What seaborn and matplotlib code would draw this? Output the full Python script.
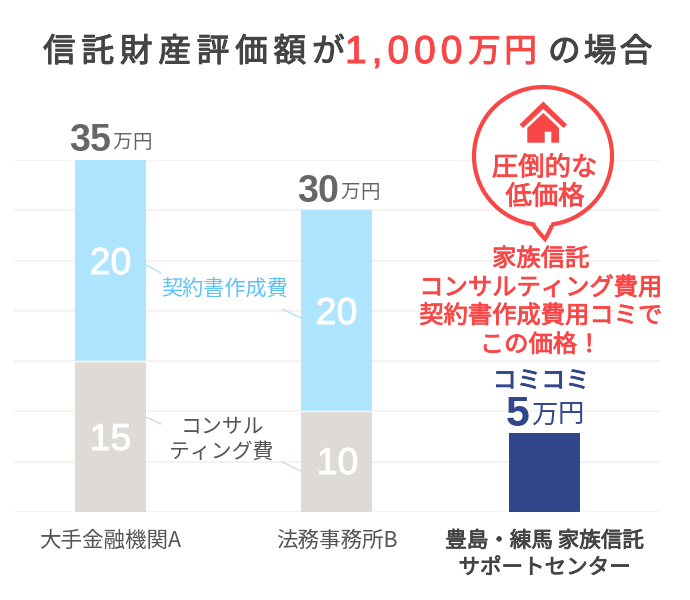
import matplotlib
matplotlib.use("Agg")
import matplotlib.pyplot as plt
import matplotlib.patheffects as pe
from matplotlib.patches import PathPatch, Polygon
from matplotlib.path import Path
import numpy as np
import pandas as pd
import seaborn as sns

# chart values (万円)
companies = ["大手金融機関A", "法務事務所B", "豊島・練馬 家族信託\nサポートセンター"]
consulting_fee = [15, 10, 0]
contract_fee = [20, 20, 0]
total_fee = [35, 30, 5]
# the third bar is drawn taller than its label says in the original
bar_height = [35, 30, 7.9]

# bars are not evenly spaced in the original, x units are pixels
bar_x = [110.5, 336.5, 544.5]

RED = "#f94646"
BLUE = "#afe4ff"
GREY = "#dedad5"
NAVY = "#31478b"
GRID = "#f6f2ef"
FONT = ["Noto Sans CJK JP", "DejaVu Sans"]
LATIN = ["Liberation Sans", "Noto Sans CJK JP"]

sns.set_theme(style="white")
plt.rcParams["font.family"] = FONT

W, H = 690, 600
fig = plt.figure(figsize=(W / 100, H / 100), dpi=100, facecolor="white")
ax = fig.add_axes([14 / W, 1 - 512 / H, 646 / W, 352 / H])

df = pd.DataFrame({"x": bar_x, "total": bar_height, "base": consulting_fee})
bar_colors = [BLUE, BLUE, NAVY]
sns.barplot(data=df, x="x", y="total", hue="x", palette=bar_colors, dodge=False, native_scale=True,
            width=71 / 208, linewidth=0, saturation=1, legend=False, ax=ax, zorder=3)
sns.barplot(data=df, x="x", y="base", color=GREY, native_scale=True, saturation=1,
            width=71 / 208, linewidth=0, ax=ax, zorder=4)
ax.hlines(df["base"][:2], [b - 35.5 for b in bar_x[:2]], [b + 35.5 for b in bar_x[:2]],
          color="white", lw=1, zorder=5)

ax.set_xlim(14, 660)
ax.set_ylim(0, 35)
ax.set_yticks(range(0, 40, 5))
ax.set_yticklabels([])
ax.grid(axis="y", color=GRID, lw=1.5, zorder=0)
ax.set_axisbelow(True)
sns.despine(ax=ax, left=True, bottom=True, top=True, right=True)
ax.set_xlabel("")
ax.set_ylabel("")
ax.set_xticks(bar_x)
ax.set_xticklabels(companies, fontsize=15.5, color="#555555", linespacing=1.28, va="top")
ax.tick_params(axis="x", length=0, pad=13)
ax.get_xticklabels()[2].set_color("#444444")
ax.get_xticklabels()[2].set_path_effects([pe.withStroke(linewidth=0.6, foreground="#444444")])

# overlay in pixel coordinates for the callouts
ov = fig.add_axes([0, 0, 1, 1], facecolor="none")
ov.set_xlim(0, W)
ov.set_ylim(H, 0)
ov.axis("off")


def medium(t, color, width=0.6):
    # the fonts here have no medium weight, thicken the regular one a little
    t.set_path_effects([pe.withStroke(linewidth=width, foreground=color)])


def spaced(x, y, s, size, color, track=0.0, family=FONT, weight="normal", stroke=0.0):
    # draws one character at a time, returns the end x
    r = fig.canvas.get_renderer()
    for ch in s:
        t = ov.text(x, y, ch, fontsize=size, color=color, family=family, weight=weight,
                    ha="left", va="center_baseline", zorder=10)
        if stroke:
            medium(t, color, stroke)
        x += t.get_window_extent(r).width + track if ch != " " else size * 0.5 + track
    return x


def label(x, y, s, size, color):
    t = ov.text(x, y, s, fontsize=size, color=color, ha="center", va="center_baseline", zorder=10)
    medium(t, color)


# title
spaced(43, 49, "信託財産評価額が", 23.5, "#444444", 5.8, stroke=0.8)
spaced(345, 49, "1,000", 28, RED, 5, family=LATIN, stroke=0.8)
spaced(468, 49, "万円", 23.5, RED, 3.6, stroke=0.8)
spaced(548, 49, "の場合", 23.5, "#444444", 3.2, stroke=0.8)

# totals above the bars
end = spaced(69, 137, str(total_fee[0]), 27, "#666666", 0, family=LATIN, weight="bold")
spaced(end + 2, 140, "万円", 14, "#666666")
end = spaced(297, 188, str(total_fee[1]), 27, "#666666", 0, family=LATIN, weight="bold")
spaced(end + 2, 190, "万円", 14, "#666666")
end = spaced(506, 410, str(total_fee[2]), 31, NAVY, 0, family=LATIN, weight="bold")
spaced(end + 1, 412, "万円", 19, NAVY)

# values inside the bars
labels = [(bar_x[0], 260, contract_fee[0]), (bar_x[0], 436, consulting_fee[0]),
          (bar_x[1], 310, contract_fee[1]), (bar_x[1] + 1, 460, consulting_fee[1])]
for x, y, v in labels:
    t = ov.text(x, y, str(v), fontsize=27, color="white", family=LATIN, ha="center",
                va="center_baseline", zorder=10)
    medium(t, "white", 0.7)

# segment labels with leader lines
ov.text(224, 287, "契約書作成費", fontsize=15.2, color="#5cc2f7", ha="center", va="center_baseline")
ov.text(222, 425, "コンサル", fontsize=15, color="#555555", ha="center", va="center_baseline")
ov.text(221, 449, "ティング費", fontsize=15, color="#555555", ha="center", va="center_baseline")
ov.plot([146, 161], [265, 273], color=BLUE, lw=1)
ov.plot([282, 301], [309, 318], color=BLUE, lw=1)
ov.plot([146, 161], [417, 424], color=GREY, lw=1)
ov.plot([282, 301], [462, 471], color=GREY, lw=1)

# speech bubble
cx, cy, rad = 543, 156, 69
a0, a1 = np.deg2rad(83), np.deg2rad(98)
arc = np.linspace(a0, a1 - 2 * np.pi, 120)
verts = [(cx + rad * np.cos(a), cy + rad * np.sin(a)) for a in arc]
codes = [Path.MOVETO] + [Path.LINETO] * (len(verts) - 1)
verts += [(533, 226), (545, 239)]
codes += [Path.CURVE3, Path.CURVE3]
verts += [(553, 226), verts[0]]
codes += [Path.CURVE3, Path.CURVE3]
ov.add_patch(PathPatch(Path(verts, codes), fc="white", ec=RED, lw=3, zorder=6))

# house icon
ov.add_patch(Polygon([(543.3, 101.5), (567, 124.5), (563.5, 128), (543.3, 109), (523, 128), (519.5, 124.5)],
                     fc=RED, lw=0, zorder=7))
ov.add_patch(Polygon([(543.3, 113), (559, 128), (559, 142.7), (551.3, 142.7), (551.3, 131.7), (544.7, 131.7),
                      (544.7, 142.7), (527.3, 142.7), (527.3, 128)], fc=RED, lw=0, zorder=7))
label(544.5, 165, "圧倒的な", 19, RED)
label(545, 194, "低価格", 19, RED)

# red message
for y, s in [(256, "家族信託"), (285, "コンサルティング費用"), (313, "契約書作成費用コミで"), (342, "この価格！")]:
    label(540.5, y, s, 17.5, RED)
label(541, 378, "コミコミ", 17.5, NAVY)

fig.savefig("out.png", dpi=100, facecolor="white")
